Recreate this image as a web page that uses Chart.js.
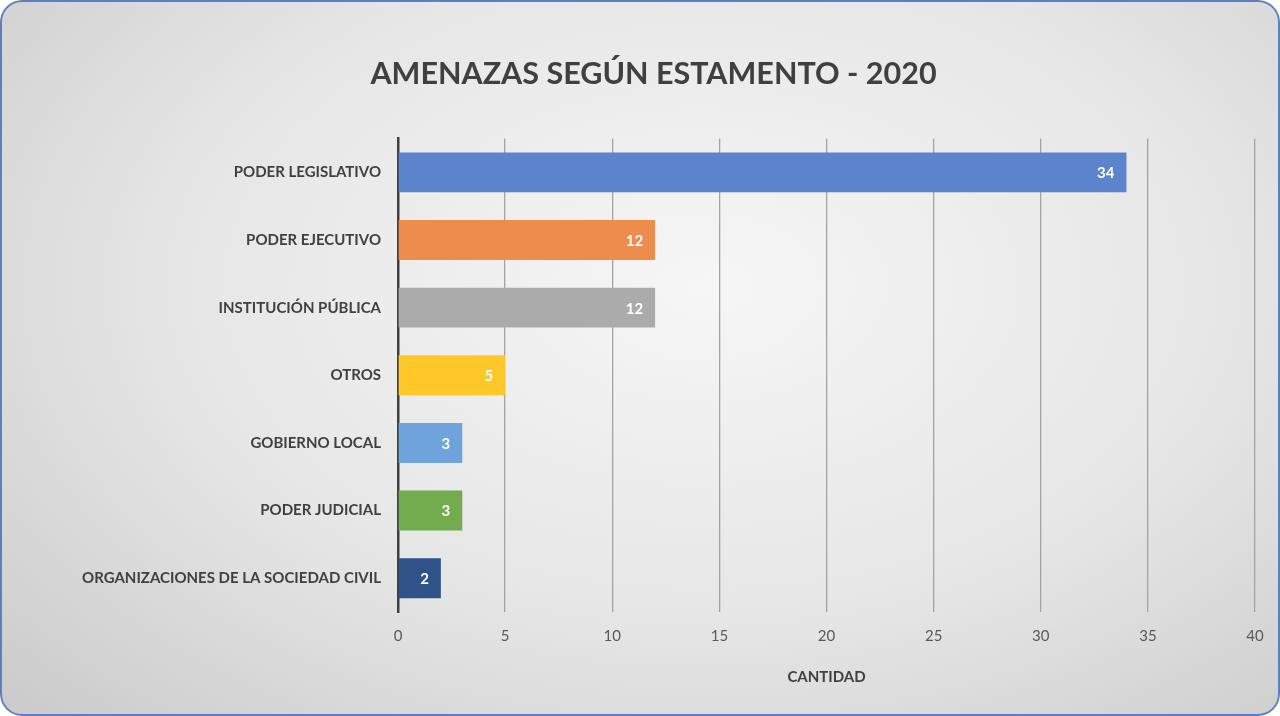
<!DOCTYPE html>
<html>
<head>
<meta charset="utf-8">
<script src="https://cdn.jsdelivr.net/npm/chart.js@4/dist/chart.umd.min.js"></script>
<style>
  html, body { margin: 0; padding: 0; background: #ffffff; }
  #wrap {
    position: relative; width: 1280px; height: 716px; overflow: hidden;
    border-radius: 22px;
    background: radial-gradient(ellipse 75% 85% at 55% 40%, #f6f6f6 0%, #e6e6e6 55%, #cbcbcb 100%);
  }
  #frame {
    position: absolute; left: 0; top: 0; width: 1276px; height: 712px;
    border: 2px solid #5b7fc0; border-radius: 22px; pointer-events: none;
  }
  canvas { position: absolute; left: 0; top: 0; }
</style>
</head>
<body>
<div id="wrap">
  <canvas id="c" width="1280" height="716"></canvas>
  <div id="frame"></div>
</div>
<script>
const chartTitle = "AMENAZAS SEGÚN ESTAMENTO - 2020";
const axisTitle = "CANTIDAD";
const categories = [
  "PODER LEGISLATIVO",
  "PODER EJECUTIVO",
  "INSTITUCIÓN PÚBLICA",
  "OTROS",
  "GOBIERNO LOCAL",
  "PODER JUDICIAL",
  "ORGANIZACIONES DE LA SOCIEDAD CIVIL"
];
const values = [34, 12, 12, 5, 3, 3, 2];
const barColors = ["#5b84cc", "#ed8c4c", "#ababab", "#ffc829", "#6ea3db", "#72ac4e", "#2f5289"];
const xTicks = [0, 5, 10, 15, 20, 25, 30, 35, 40];

const FONT = "Lato, 'Open Sans', sans-serif";

const valueLabels = {
  id: "valueLabels",
  afterDatasetsDraw(chart) {
    const ctx = chart.ctx;
    const meta = chart.getDatasetMeta(0);
    ctx.save();
    ctx.fillStyle = "#ffffff";
    ctx.font = "bold 15px " + FONT;
    ctx.textAlign = "right";
    ctx.textBaseline = "middle";
    meta.data.forEach((bar, i) => {
      ctx.fillText(String(values[i]), bar.x - 12, bar.y + 1);
    });
    ctx.restore();
  }
};

new Chart(document.getElementById("c"), {
  type: "bar",
  data: {
    labels: categories,
    datasets: [{
      data: values,
      backgroundColor: barColors,
      borderWidth: 0,
      barPercentage: 0.59,
      categoryPercentage: 1.0
    }]
  },
  options: {
    indexAxis: "y",
    responsive: false,
    animation: false,
    devicePixelRatio: 1,
    layout: { padding: { left: 52, right: 25, top: 0, bottom: 0 } },
    plugins: {
      legend: { display: false },
      tooltip: { enabled: false },
      title: {
        display: true,
        text: chartTitle,
        color: "#404040",
        font: { family: FONT, size: 30.5, weight: "bold", lineHeight: 1.2 },
        padding: { top: 56, bottom: 46 }
      }
    },
    scales: {
      x: {
        min: 0, max: 40,
        afterBuildTicks(scale) { scale.ticks = xTicks.map(v => ({ value: v })); },
        afterFit(scale) { scale.height = 104; },
        grid: { color: "#a3a3a3", lineWidth: 1.3, drawTicks: false },
        border: { display: false },
        ticks: { color: "#595959", padding: 15, font: { family: FONT, size: 15 } },
        title: {
          display: true, text: axisTitle, color: "#404040",
          font: { family: FONT, size: 15, weight: "bold" },
          padding: { top: 0, bottom: 30 }
        }
      },
      y: {
        afterFit(scale) { scale.width = 346; },
        grid: { display: false, drawTicks: false },
        border: { display: true, color: "#404040", width: 2.5 },
        ticks: { color: "#404040", padding: 17, font: { family: FONT, size: 15, weight: "bold" } }
      }
    }
  },
  plugins: [valueLabels]
});
</script>
</body>
</html>
